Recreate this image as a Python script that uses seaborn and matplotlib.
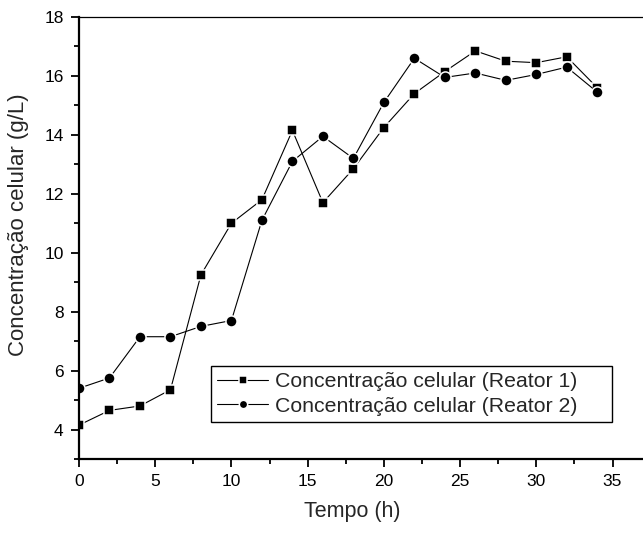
import matplotlib
matplotlib.use("Agg")
import matplotlib.pyplot as plt
import numpy as np
import pandas as pd
import seaborn as sns
from matplotlib.ticker import MultipleLocator

# time (h) and cell concentration (g/L)
tempo = [0, 2, 4, 6, 8, 10, 12, 14, 16, 18, 20, 22, 24, 26, 28, 30, 32, 34]
reator1 = [4.15, 4.65, 4.8, 5.35, 9.25, 11.0, 11.8, 14.15, 11.7, 12.85,
           14.25, 15.4, 16.15, 16.85, 16.5, 16.45, 16.65, 15.6]
reator2 = [5.4, 5.75, 7.15, 7.15, 7.5, 7.7, 11.1, 13.1, 13.95, 13.2,
           15.1, 16.6, 15.95, 16.1, 15.85, 16.05, 16.3, 15.45]
labels = ["Concentração celular (Reator 1)", "Concentração celular (Reator 2)"]

sns.set_style("ticks")
plt.rcParams["font.family"] = ["Liberation Sans", "DejaVu Sans"]

df1 = pd.DataFrame({"tempo": tempo, "conc": reator1})
df2 = pd.DataFrame({"tempo": tempo, "conc": reator2})

fig = plt.figure(figsize=(6.43, 5.34), dpi=100)
ax = fig.add_axes([79 / 643, 1 - 459 / 534, 564 / 643, 442 / 534])

sns.lineplot(data=df1, x="tempo", y="conc", ax=ax, color="black", lw=0.8,
             marker="s", markersize=7.2, markeredgecolor="white",
             markeredgewidth=1.1, label=labels[0])
sns.lineplot(data=df2, x="tempo", y="conc", ax=ax, color="black", lw=0.8,
             marker="o", markersize=8.0, markeredgecolor="white",
             markeredgewidth=1.1, label=labels[1])

ax.set_xlim(0, 37)
ax.set_ylim(3, 18)
ax.xaxis.set_major_locator(MultipleLocator(5))
ax.xaxis.set_minor_locator(MultipleLocator(2.5))
ax.yaxis.set_minor_locator(MultipleLocator(1))
ax.set_yticks([4, 6, 8, 10, 12, 14, 16, 18])

ax.tick_params(which="major", direction="out", length=6, width=1.3,
               labelsize=12.5, pad=5, color="black", labelcolor="black")
ax.tick_params(which="minor", direction="out", length=3.5, width=1.3,
               color="black")

for s in ["left", "bottom"]:
    ax.spines[s].set_linewidth(1.6)
    ax.spines[s].set_color("black")
ax.spines["top"].set_linewidth(0.9)
ax.spines["top"].set_color("black")
ax.spines["right"].set_visible(False)

ax.set_xlabel("Tempo (h)", fontsize=15.5, labelpad=9)
ax.xaxis.set_label_coords(0.485, -0.095)
ax.set_ylabel("Concentração celular (g/L)", fontsize=16, labelpad=6)
ax.yaxis.set_label_coords(-0.088, 0.53)

leg = ax.legend(loc="lower left", mode="expand",
                bbox_to_anchor=(211 / 643, 1 - 422 / 534, 401 / 643, 55 / 534),
                bbox_transform=fig.transFigure, borderaxespad=0,
                fontsize=15.3, frameon=True, fancybox=False,
                handlelength=2.4, handletextpad=0.3, labelspacing=0.25,
                borderpad=0.3, markerscale=0.75)
leg.get_frame().set_edgecolor("black")
leg.get_frame().set_linewidth(1.0)
leg.get_frame().set_alpha(1)

fig.savefig("out.png", dpi=100)
